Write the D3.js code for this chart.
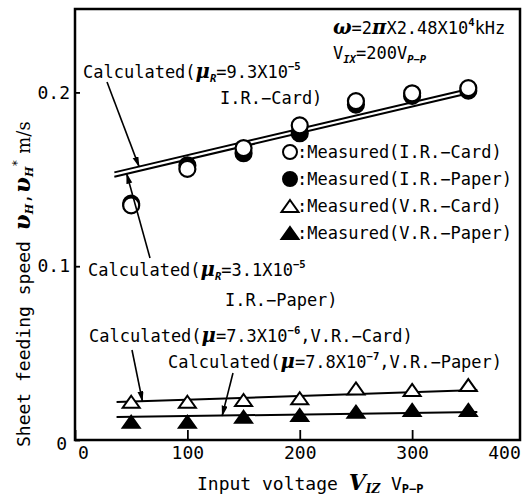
<!DOCTYPE html>
<html>
<head>
<meta charset="utf-8">
<script src="https://cdn.jsdelivr.net/npm/d3@7"></script>
<style>
  body { margin: 0; background: #fff; }
  svg { display: block; }
</style>
</head>
<body>
<div id="chart"></div>
<script>
// measured points (x = input voltage Vp-p, y = feeding speed m/s)
const volt = [50, 100, 150, 200, 250, 300, 350];
const irCard = [0.135, 0.156, 0.168, 0.181, 0.195, 0.1995, 0.2025];
const irPaper = [0.136, 0.158, 0.165, 0.1765, 0.193, 0.198, 0.201];
const vrCard = [0.022, 0.022, 0.023, 0.024, 0.0297, 0.0288, 0.0316];
const vrPaper = [0.0105, 0.0105, 0.0134, 0.0144, 0.0163, 0.0173, 0.0173];

// calculated curves
const calcIRVolt = [35, 357];
const calcIRCard = [0.154, 0.203];
const calcIRPaper = [0.1515, 0.2005];
const calcVRVolt = [37, 358];
const calcVRCard = [0.0218, 0.0287];
const calcVRPaper = [0.0132, 0.0161];

// axis ticks
const xMajor = [0, 100, 200, 300, 400];
const xMinor = [50, 150, 250, 350];
const yMajor = [0, 0.1, 0.2];
const yMid = [0.05, 0.15];
const yMinor = d3.range(0, 0.245, 0.01);

const width = 523, height = 496;
const mono = "'DejaVu Sans Mono', monospace";
const serif = "'DejaVu Serif', serif";

const svg = d3.select("#chart").append("svg")
  .attr("width", width)
  .attr("height", height);

const x = d3.scaleLinear().domain([0, 396]).range([75, 520]);
const y = d3.scaleLinear().domain([0, 0.248]).range([440, 9]);

// arrow head
svg.append("defs").append("marker")
  .attr("id", "arr")
  .attr("markerWidth", 12)
  .attr("markerHeight", 8)
  .attr("refX", 10)
  .attr("refY", 3)
  .attr("orient", "auto")
  .attr("markerUnits", "userSpaceOnUse")
  .append("path")
  .attr("d", "M0,0L11,3L0,6Z")
  .attr("fill", "black");

// ---- axes (ticks point inward)
const gx = svg.append("g").attr("transform", "translate(0,440)");
gx.call(d3.axisBottom(x).tickValues(xMinor).tickSize(-5).tickFormat(""));
gx.call(d3.axisBottom(x).tickValues(xMajor).tickSizeInner(-10).tickSizeOuter(0).tickPadding(6));

const gy = svg.append("g").attr("transform", "translate(75,0)");
gy.call(d3.axisLeft(y).tickValues(yMinor).tickSize(-5).tickFormat(""));
gy.call(d3.axisLeft(y).tickValues(yMid).tickSize(-15).tickFormat(""));
gy.call(d3.axisLeft(y).tickValues(yMajor).tickSizeInner(-5).tickSizeOuter(0).tickPadding(5)
  .tickFormat(d => d === 0 ? "0" : d3.format(".1f")(d)));

svg.selectAll(".domain").remove();
svg.selectAll(".tick line").attr("stroke", "black").attr("stroke-width", 1.8);
svg.selectAll(".tick text")
  .attr("font-family", mono)
  .attr("font-size", 18)
  .attr("fill", "black");

// nudge end labels like the original
gx.selectAll(".tick text").filter(d => d === 0).attr("dx", 8);
gx.selectAll(".tick text").filter(d => d === 400).attr("x", x(396) - x(400) - 16);
gy.selectAll(".tick text").filter(d => d === 0).attr("dy", "0.55em").attr("x", -8);

// frame
svg.append("rect")
  .attr("x", x(0)).attr("y", y(0.248))
  .attr("width", x(396) - x(0)).attr("height", y(0) - y(0.248))
  .attr("fill", "none")
  .attr("stroke", "black")
  .attr("stroke-width", 2.5);

// ---- calculated lines
const line = d3.line().x(d => x(d[0])).y(d => y(d[1]));
const lines = [
  [calcIRVolt, calcIRCard],
  [calcIRVolt, calcIRPaper],
  [calcVRVolt, calcVRCard],
  [calcVRVolt, calcVRPaper]
];
lines.forEach(([xs, ys]) => {
  svg.append("path")
    .datum(xs.map((v, i) => [v, ys[i]]))
    .attr("d", line)
    .attr("fill", "none")
    .attr("stroke", "black")
    .attr("stroke-width", 2);
});

// ---- markers
const tri = "M0,-6L8.5,6L-8.5,6Z";

function circles(vals, filled) {
  svg.append("g").selectAll("circle")
    .data(vals)
    .join("circle")
    .attr("cx", (d, i) => x(volt[i]))
    .attr("cy", d => y(d))
    .attr("r", 8)
    .attr("fill", filled ? "black" : "white")
    .attr("stroke", "black")
    .attr("stroke-width", 2.2);
}
function triangles(vals, filled) {
  svg.append("g").selectAll("path")
    .data(vals)
    .join("path")
    .attr("d", tri)
    .attr("transform", (d, i) => `translate(${x(volt[i])},${y(d)})`)
    .attr("fill", filled ? "black" : "white")
    .attr("stroke", "black")
    .attr("stroke-width", 2)
    .attr("stroke-linejoin", "miter");
}
circles(irPaper, true);
circles(irCard, false);
triangles(vrCard, false);
triangles(vrPaper, true);

// ---- text helper with sub / superscripts
function rich(px, py, parts, size, g) {
  const t = (g || svg).append("text")
    .attr("x", px).attr("y", py)
    .attr("font-family", mono)
    .attr("font-size", size)
    .attr("fill", "black");
  let shift = 0;
  parts.forEach(p => {
    const [str, kind] = typeof p === "string" ? [p, "n"] : p;
    const ts = t.append("tspan").text(str);
    let target = 0;
    if (kind === "sub") target = size * 0.25;
    if (kind === "sup") target = -size * 0.45;
    ts.attr("dy", target - shift);
    shift = target;
    if (kind === "sub" || kind === "sup") {
      ts.attr("font-size", size * 0.62).attr("font-weight", "bold");
    }
    if (kind === "sub") ts.attr("font-style", "italic");
    if (kind === "mu") {
      ts.attr("font-family", serif).attr("font-style", "italic")
        .attr("font-weight", "bold").attr("font-size", size * 1.15);
    }
  });
  return t;
}

const fs = 17;

// conditions
rich(333, 34, [["ω", "mu"], "=2", ["π", "mu"], "X2.48X10", ["4", "sup"], "kHz"], fs);
rich(333, 59, ["V", ["IX", "sub"], "=200V", ["P−P", "sub"]], fs);

// annotations for I.R. lines
rich(83, 78, ["Calculated(", ["μ", "mu"], ["R", "sub"], "=9.3X10", ["−5", "sup"]], fs);
rich(220, 104, ["I.R.−Card)"], fs);
rich(88, 276, ["Calculated(", ["μ", "mu"], ["R", "sub"], "=3.1X10", ["−5", "sup"]], fs);
rich(225, 306, ["I.R.−Paper)"], fs);

// annotations for V.R. lines
rich(89, 342, ["Calculated(", ["μ", "mu"], "=7.3X10", ["−6", "sup"], ",V.R.−Card)"], fs);
rich(168, 368, ["Calculated(", ["μ", "mu"], "=7.8X10", ["−7", "sup"], ",V.R.−Paper)"], fs);

// leader arrows, anchored to the calculated lines
function arrow(x1, y1, vx, vy) {
  svg.append("line")
    .attr("x1", x1).attr("y1", y1)
    .attr("x2", x(vx)).attr("y2", y(vy))
    .attr("stroke", "black")
    .attr("stroke-width", 1.6)
    .attr("marker-end", "url(#arr)");
}
arrow(107, 82, 57, 0.1573);
arrow(150, 258, 46, 0.1532);
arrow(132, 350, 60, 0.0223);
arrow(233, 373, 131, 0.0140);

// ---- legend
const legendRows = [
  ["Measured(I.R.−Card)", "circle", false],
  ["Measured(I.R.−Paper)", "circle", true],
  ["Measured(V.R.−Card)", "tri", false],
  ["Measured(V.R.−Paper)", "tri", true]
];
const legendY = [152, 179, 206, 233];
legendRows.forEach(([label, shape, filled], i) => {
  const ly = legendY[i];
  if (shape === "circle") {
    svg.append("circle").attr("cx", 290).attr("cy", ly).attr("r", 7)
      .attr("fill", filled ? "black" : "white")
      .attr("stroke", "black").attr("stroke-width", 2);
  } else {
    svg.append("path").attr("d", tri).attr("transform", `translate(290,${ly})`)
      .attr("fill", filled ? "black" : "white")
      .attr("stroke", "black").attr("stroke-width", 2);
  }
  rich(297, ly + 6, [":" + label], fs);
});

// ---- axis titles
const xt = svg.append("text")
  .attr("x", 197).attr("y", 490)
  .attr("font-family", mono)
  .attr("font-size", 18)
  .attr("fill", "black");
xt.append("tspan").text("Input voltage ");
xt.append("tspan").text("V").attr("font-family", serif).attr("font-style", "italic")
  .attr("font-weight", "bold").attr("font-size", 22);
xt.append("tspan").text("IZ").attr("font-family", serif).attr("font-style", "italic")
  .attr("font-weight", "bold").attr("font-size", 12).attr("dy", 3);
xt.append("tspan").text(" V").attr("dy", -3);
xt.append("tspan").text("P−P").attr("font-weight", "bold").attr("font-size", 12).attr("dy", 3);

const yt = svg.append("g").attr("transform", "translate(30,447) rotate(-90)");
const ytt = yt.append("text")
  .attr("x", 0).attr("y", 0)
  .attr("font-family", mono)
  .attr("font-size", 18)
  .attr("fill", "black");
ytt.append("tspan").text("Sheet feeding speed ");
ytt.append("tspan").text("υ").attr("font-family", serif).attr("font-style", "italic")
  .attr("font-weight", "bold").attr("font-size", 23);
ytt.append("tspan").text("H").attr("font-family", serif).attr("font-style", "italic")
  .attr("font-weight", "bold").attr("font-size", 11).attr("dy", 3);
ytt.append("tspan").text(",").attr("dy", -3);
ytt.append("tspan").text("υ").attr("font-family", serif).attr("font-style", "italic")
  .attr("font-weight", "bold").attr("font-size", 23);
ytt.append("tspan").text("H").attr("font-family", serif).attr("font-style", "italic")
  .attr("font-weight", "bold").attr("font-size", 11).attr("dy", 3);
ytt.append("tspan").text("*").attr("font-size", 12).attr("dy", -12);
ytt.append("tspan").text(" m/s").attr("font-family", serif).attr("dy", 9);
</script>
</body>
</html>
